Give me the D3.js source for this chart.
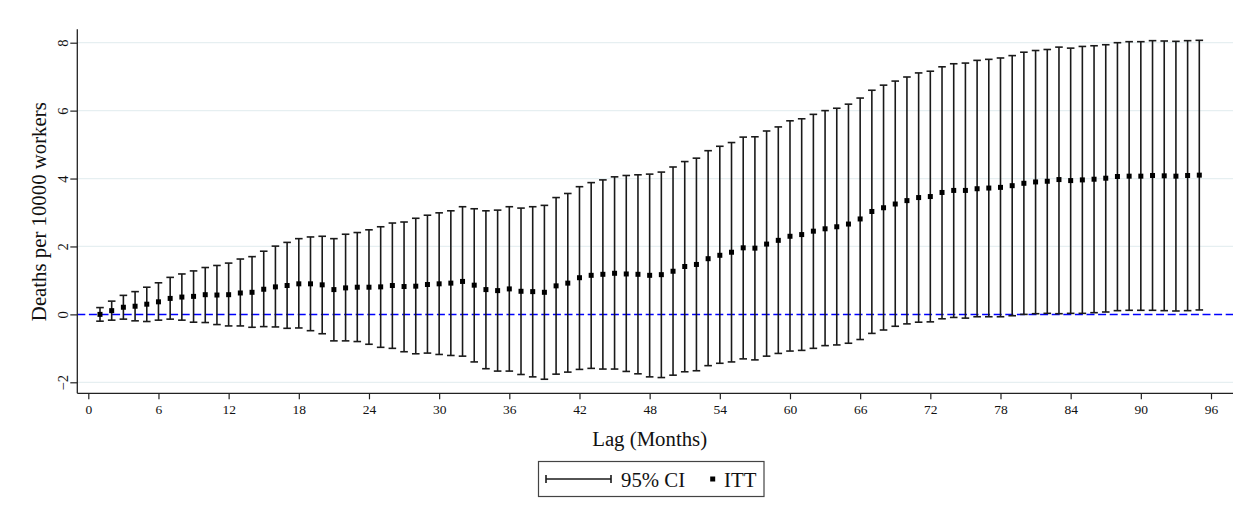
<!DOCTYPE html>
<html>
<head>
<meta charset="utf-8">
<script src="https://cdn.jsdelivr.net/npm/d3@7"></script>
<style>
  html, body { margin: 0; padding: 0; background: #ffffff; }
  svg { display: block; }
  svg text { font-family: "Liberation Serif", "DejaVu Serif", serif !important; }
</style>
</head>
<body>
<svg id="chart" width="1239" height="506"></svg>
<script>
// Lags (months)
const lags = d3.range(1, 96);
// ITT point estimates
const itt = [
  0.00, 0.11, 0.21, 0.24, 0.30, 0.37, 0.47, 0.51, 0.53, 0.58,
  0.57, 0.58, 0.63, 0.65, 0.74, 0.81, 0.85, 0.90, 0.90, 0.87,
  0.73, 0.78, 0.80, 0.80, 0.81, 0.85, 0.82, 0.83, 0.88, 0.90,
  0.92, 0.97, 0.86, 0.73, 0.70, 0.75, 0.68, 0.67, 0.65, 0.84,
  0.92, 1.08, 1.15, 1.18, 1.21, 1.19, 1.18, 1.15, 1.17, 1.27,
  1.41, 1.47, 1.64, 1.74, 1.83, 1.96, 1.95, 2.07, 2.18, 2.30,
  2.35, 2.45, 2.52, 2.58, 2.66, 2.81, 3.03, 3.14, 3.25, 3.35,
  3.44, 3.47, 3.59, 3.65, 3.65, 3.70, 3.72, 3.74, 3.79, 3.86,
  3.90, 3.92, 3.97, 3.94, 3.96, 3.98, 4.01, 4.06, 4.07, 4.07,
  4.09, 4.08, 4.07, 4.09, 4.10
];
// Upper bound of 95% CI
const ciUpper = [
  0.20, 0.39, 0.56, 0.67, 0.80, 0.93, 1.09, 1.19, 1.28, 1.38,
  1.44, 1.51, 1.63, 1.70, 1.86, 2.01, 2.12, 2.23, 2.28, 2.30,
  2.23, 2.36, 2.41, 2.49, 2.58, 2.69, 2.72, 2.83, 2.92, 2.99,
  3.05, 3.17, 3.11, 3.05, 3.07, 3.17, 3.13, 3.17, 3.21, 3.44,
  3.56, 3.76, 3.88, 3.96, 4.05, 4.09, 4.11, 4.13, 4.19, 4.34,
  4.50, 4.60, 4.82, 4.95, 5.06, 5.22, 5.23, 5.40, 5.52, 5.70,
  5.76, 5.89, 6.00, 6.07, 6.19, 6.37, 6.60, 6.75, 6.87, 6.99,
  7.11, 7.16, 7.29, 7.38, 7.40, 7.48, 7.51, 7.55, 7.62, 7.72,
  7.77, 7.80, 7.87, 7.84, 7.89, 7.91, 7.94, 8.00, 8.03, 8.03,
  8.06, 8.05, 8.04, 8.06, 8.07
];
// Lower bound of 95% CI
const ciLower = [
  -0.20, -0.17, -0.14, -0.19, -0.21, -0.17, -0.14, -0.17, -0.23, -0.24,
  -0.30, -0.34, -0.34, -0.38, -0.36, -0.37, -0.41, -0.40, -0.48, -0.57,
  -0.78, -0.78, -0.80, -0.88, -0.97, -1.00, -1.10, -1.16, -1.14, -1.18,
  -1.21, -1.23, -1.40, -1.60, -1.67, -1.67, -1.77, -1.84, -1.91, -1.76,
  -1.70, -1.62, -1.59, -1.61, -1.61, -1.68, -1.75, -1.84, -1.86, -1.79,
  -1.69, -1.66, -1.51, -1.44, -1.40, -1.31, -1.34, -1.23, -1.15, -1.08,
  -1.06, -1.00, -0.92, -0.90, -0.85, -0.74, -0.56, -0.46, -0.35, -0.28,
  -0.23, -0.22, -0.13, -0.09, -0.11, -0.07, -0.07, -0.07, -0.04, 0.00,
  0.02, 0.03, 0.02, 0.03, 0.03, 0.05, 0.07, 0.11, 0.12, 0.12,
  0.12, 0.11, 0.10, 0.11, 0.13
];
const xTicks = [0, 6, 12, 18, 24, 30, 36, 42, 48, 54, 60, 66, 72, 78, 84, 90, 96];
const yTicks = [-2, 0, 2, 4, 6, 8];
const gridTicks = [-2, 2, 4, 6, 8];

const data = lags.map((l, i) => ({ lag: l, est: itt[i], lo: ciLower[i], hi: ciUpper[i] }));

const svg = d3.select("#chart");
const pLeft = 77.3, pRight = 1233, pTop = 29.3, pBottom = 393.3;
const serif = '"Liberation Serif", "DejaVu Serif", serif';

const x = d3.scaleLinear().domain([0, 96]).range([88.3, 1211]);
const y = d3.scaleLinear().domain([-2, 8]).range([382.3, 42.7]);

// gridlines
svg.append("g").selectAll("line").data(gridTicks).join("line")
  .attr("x1", pLeft).attr("x2", pRight)
  .attr("y1", d => y(d)).attr("y2", d => y(d))
  .attr("stroke", "#e6eff1").attr("stroke-width", 1.2);

// zero reference line
svg.append("line")
  .attr("x1", pLeft).attr("x2", pRight)
  .attr("y1", y(0)).attr("y2", y(0))
  .attr("stroke", "#0000ff").attr("stroke-width", 1.5)
  .attr("stroke-dasharray", "8,3.6");

// error bars
const eb = svg.append("g").attr("stroke", "#1a1a1a").attr("stroke-width", 1.6).attr("fill", "none");
eb.selectAll("line.v").data(data).join("line").attr("class", "v")
  .attr("x1", d => x(d.lag)).attr("x2", d => x(d.lag))
  .attr("y1", d => y(d.lo)).attr("y2", d => y(d.hi));
eb.selectAll("line.ct").data(data).join("line").attr("class", "ct")
  .attr("x1", d => x(d.lag) - 3.8).attr("x2", d => x(d.lag) + 3.8)
  .attr("y1", d => y(d.hi)).attr("y2", d => y(d.hi));
eb.selectAll("line.cb").data(data).join("line").attr("class", "cb")
  .attr("x1", d => x(d.lag) - 3.8).attr("x2", d => x(d.lag) + 3.8)
  .attr("y1", d => y(d.lo)).attr("y2", d => y(d.lo));

// markers
const ms = 5;
svg.append("g").selectAll("rect").data(data).join("rect")
  .attr("x", d => x(d.lag) - ms / 2).attr("y", d => y(d.est) - ms / 2)
  .attr("width", ms).attr("height", ms).attr("fill", "#000");

// x axis
const xAxis = d3.axisBottom(x).tickValues(xTicks).tickSize(6).tickPadding(5).tickFormat(d3.format("d"));
const gx = svg.append("g").attr("transform", `translate(0,${pBottom})`).call(xAxis)
  .attr("font-family", serif);
gx.select(".domain").remove();
gx.append("line").attr("x1", pLeft).attr("x2", pRight).attr("y1", 0).attr("y2", 0)
  .attr("stroke", "#222").attr("stroke-width", 1.3);
gx.selectAll(".tick line").attr("stroke", "#222").attr("stroke-width", 1.2);
gx.selectAll(".tick text").attr("fill", "#111").style("font-size", "13.5px");

// y axis
const yAxis = d3.axisLeft(y).tickValues(yTicks).tickSize(7).tickPadding(0).tickFormat(d3.format("d"));
const gy = svg.append("g").attr("transform", `translate(${pLeft},0)`).call(yAxis)
  .attr("font-family", serif);
gy.select(".domain").remove();
gy.append("line").attr("x1", 0).attr("x2", 0).attr("y1", pTop).attr("y2", pBottom)
  .attr("stroke", "#222").attr("stroke-width", 1.3);
gy.selectAll(".tick line").attr("stroke", "#222").attr("stroke-width", 1.2);
gy.selectAll(".tick text")
  .attr("x", 0).attr("dy", null).attr("y", 0)
  .attr("text-anchor", "middle")
  .attr("transform", "translate(-14,0) rotate(-90)")
  .attr("dominant-baseline", "central")
  .attr("fill", "#111").style("font-size", "14.5px");

// axis titles
svg.append("text")
  .attr("x", (x(0) + x(96)) / 2).attr("y", 446)
  .attr("text-anchor", "middle").attr("font-family", serif)
  .style("font-size", "20.8px").attr("fill", "#111")
  .text("Lag (Months)");
svg.append("text")
  .attr("transform", `translate(46,${211.7}) rotate(-90)`)
  .attr("text-anchor", "middle").attr("font-family", serif)
  .style("font-size", "20.8px").attr("fill", "#111")
  .text("Deaths per 10000 workers");

// legend
const lg = svg.append("g").attr("font-family", serif);
lg.append("rect").attr("x", 538.5).attr("y", 461.5).attr("width", 225.5).attr("height", 35)
  .attr("fill", "#fff").attr("stroke", "#444").attr("stroke-width", 1.2);
lg.append("line").attr("x1", 546).attr("x2", 611).attr("y1", 479).attr("y2", 479)
  .attr("stroke", "#1a1a1a").attr("stroke-width", 1.6);
lg.append("line").attr("x1", 546).attr("x2", 546).attr("y1", 475).attr("y2", 483)
  .attr("stroke", "#1a1a1a").attr("stroke-width", 1.6);
lg.append("line").attr("x1", 611).attr("x2", 611).attr("y1", 475).attr("y2", 483)
  .attr("stroke", "#1a1a1a").attr("stroke-width", 1.6);
lg.append("text").attr("x", 621).attr("y", 486.5).style("font-size", "20.8px").attr("fill", "#111").text("95% CI");
lg.append("rect").attr("x", 712.7 - ms / 2).attr("y", 479 - ms / 2).attr("width", ms).attr("height", ms).attr("fill", "#000");
lg.append("text").attr("x", 724).attr("y", 486.5).style("font-size", "20.8px").attr("fill", "#111").text("ITT");
</script>
</body>
</html>
